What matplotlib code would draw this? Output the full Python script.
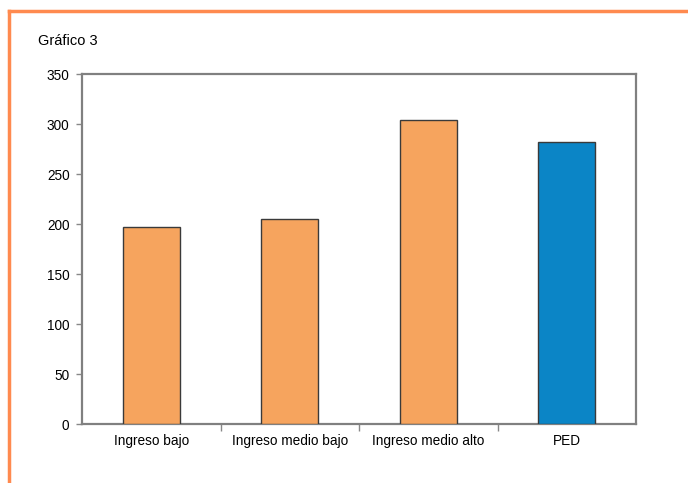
import matplotlib
matplotlib.use('Agg')
import matplotlib.pyplot as plt
from matplotlib.lines import Line2D

categories = ['Ingreso bajo', 'Ingreso medio bajo', 'Ingreso medio alto', 'PED']
values = [197, 205, 304, 282]
colors = ['#F6A45E', '#F6A45E', '#F6A45E', '#0B85C6']
yticks = [0, 50, 100, 150, 200, 250, 300, 350]

plt.rcParams['font.family'] = ['Liberation Sans', 'DejaVu Sans']

fig = plt.figure(figsize=(6.88, 4.83), dpi=100)
ax = fig.add_axes([82/688, 1 - 424/483, (636 - 82)/688, (424 - 74)/483])

x = list(range(len(categories)))
ax.bar(x, values, width=0.41, color=colors, edgecolor='#3a3a3a', linewidth=1.0, zorder=3)

ax.set_xlim(-0.5, len(categories) - 0.5)
ax.set_ylim(0, 350)
ax.set_yticks(yticks)
ax.set_xticks(x)
ax.set_xticklabels(categories, fontsize=9.8)
ax.tick_params(axis='y', labelsize=9.8, length=4, width=1, color='#888888', pad=5)
ax.tick_params(axis='x', length=0, pad=7)
# separators between categories on the x axis
ax.set_xticks([i + 0.5 for i in range(len(categories) - 1)], minor=True)
ax.tick_params(axis='x', which='minor', length=5, width=1, color='#888888')

for s in ax.spines.values():
    s.set_color('#808080')
    s.set_linewidth(1.6)

fig.text(38/688, 1 - 41/483, 'Gráfico 3', fontsize=10.5, va='center', ha='left')

# orange frame round the chart
frame = '#FF8A4F'
fig.add_artist(Line2D([9/688, 9/688], [0, 1 - 11/483], color=frame, linewidth=2.5,
                      transform=fig.transFigure))
fig.add_artist(Line2D([9/688, 1], [1 - 11/483, 1 - 11/483], color=frame, linewidth=2.5,
                      transform=fig.transFigure))

fig.savefig('out.png', dpi=100)
